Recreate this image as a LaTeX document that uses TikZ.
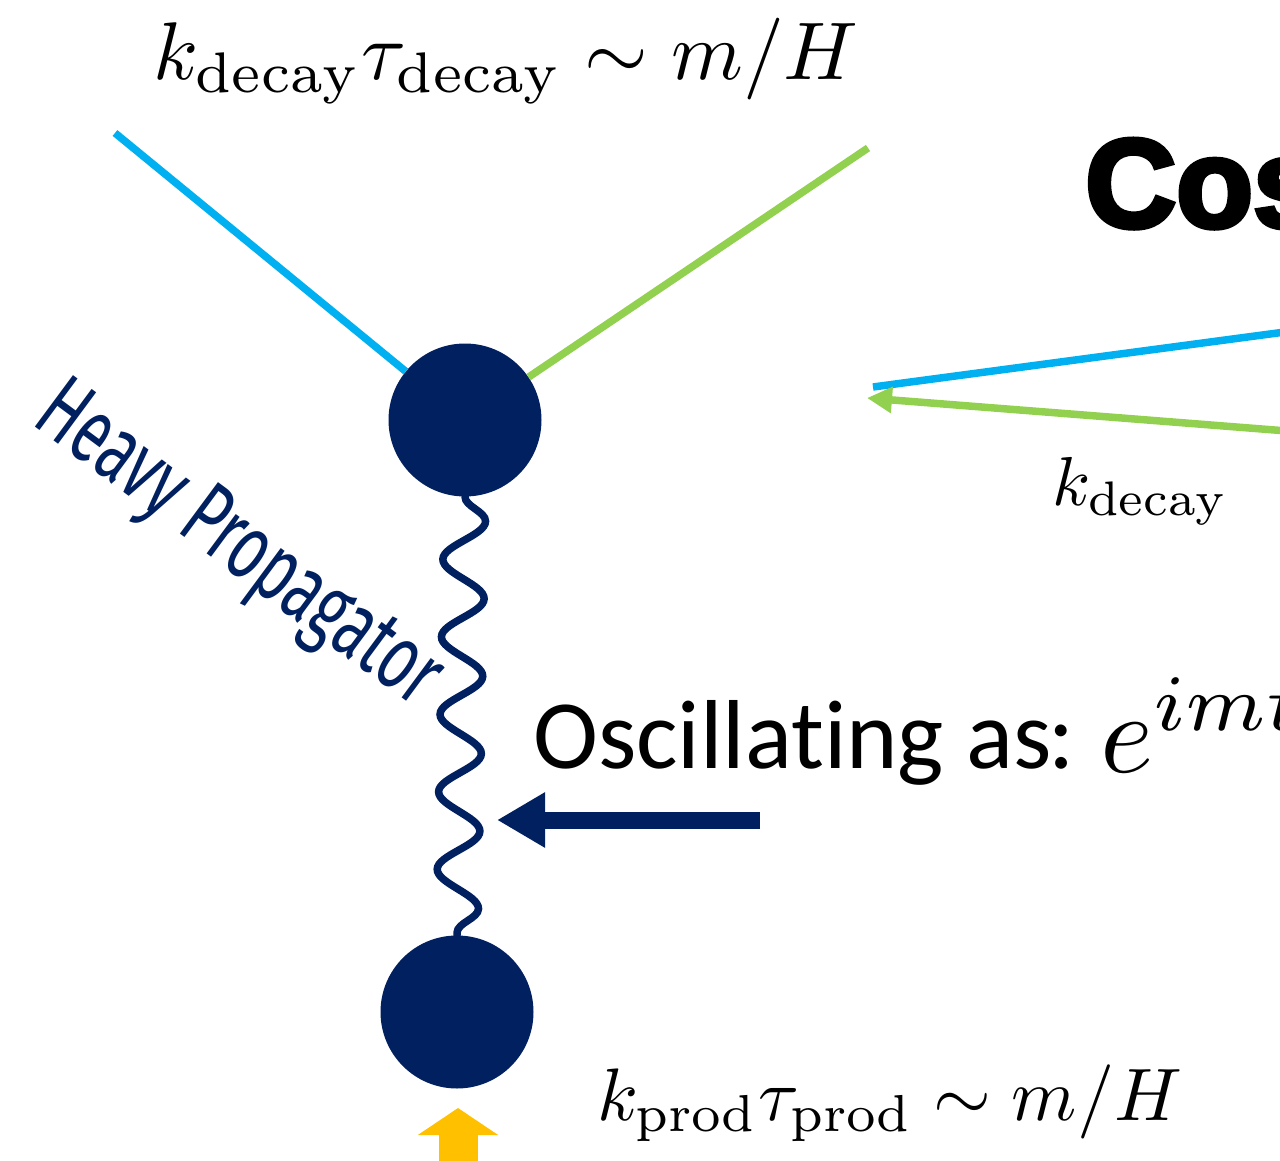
\documentclass[tikz,border=0pt]{standalone}
\usepackage{fontspec}
\usepackage{graphicx}
\usetikzlibrary{arrows.meta,decorations.pathmorphing}
\newfontfamily\calibri{Carlito}[Ligatures=NoCommon]
\newfontfamily\agency{Fira Sans}
\newfontfamily\blackfont{Liberation Sans}[BoldFeatures={FakeBold=4}]
\definecolor{navy}{RGB}{0,32,96}
\definecolor{cyanb}{RGB}{0,176,240}
\definecolor{greenb}{RGB}{146,208,80}
\definecolor{yellowb}{RGB}{255,192,0}
\begin{document}
\begin{tikzpicture}[x=1pt,y=-1pt,
  dot/.style={circle, fill=navy, minimum size=153pt, inner sep=0pt},
  leg/.style={line width=7.5pt},
  wave/.style={navy, line width=7.5pt, line cap=round, decorate,
    decoration={snake, segment length=77.5pt, amplitude=21pt}},
  lbl/.style={anchor=base west, inner sep=0pt}]
\useasboundingbox (0,0) rectangle (1280,1161);
\clip (0,0) rectangle (1280,1161);
% vertices
\node[dot] (c1) at (465,420) {};
\node[dot] (c2) at (457,1012) {};
% legs
\coordinate (bl) at (115,133);
\coordinate (gr) at (868,148);
\draw[leg, cyanb] (bl) -- (c1);
\draw[leg, greenb] (gr) -- (c1);
% propagator
\draw[wave] (c1.south) -- (c2.north);
% right side momenta
\coordinate (rb1) at (873,387);
\coordinate (rb2) at (1300,330);
\coordinate (rg1) at (1300,432);
\coordinate (rg2) at (867,398);
\draw[leg, cyanb] (rb1) -- (rb2);
\draw[leg, greenb, -{Triangle[length=25pt,width=25pt]}] (rg1) -- (rg2);
% navy pointer
\coordinate (ns) at (760,820);
\coordinate (nt) at (497,820);
\draw[navy, line width=17pt, -{Triangle[length=48pt,width=52pt]}] (ns) -- (nt);
% yellow arrow
\coordinate (ys) at (458,1200);
\coordinate (yt) at (458,1108);
\draw[yellowb, line width=39pt, -{Triangle[length=27pt,width=79pt]}] (ys) -- (yt);
% texts
\node[lbl] (topm) at (153,80) {\resizebox{705pt}{!}{$k_{\mathrm{decay}}\tau_{\mathrm{decay}}\sim m/H$}};
\node[lbl] (botm) at (597,1120) {\resizebox{585pt}{!}{$k_{\mathrm{prod}}\tau_{\mathrm{prod}}\sim m/H$}};
\node[lbl] (kd) at (1052,505) {\resizebox{176pt}{!}{$k_{\mathrm{decay}}$}};
\node[lbl] (osc) at (533,768) {\calibri\fontsize{98}{110}\selectfont Oscillating as};
\node[lbl] (colon) at (1048,768) {\calibri\fontsize{98}{110}\selectfont :};
\node[lbl] (emt) at (1100,772) {\scalebox{11.4}{$e^{imt}$}};
\node[lbl] (cos) at (1085,227) {\blackfont\bfseries\fontsize{126}{130}\selectfont Cos};
\node[lbl, rotate=-36.5, text=navy] (hp) at (30,423) {\resizebox{480pt}{64pt}{\agency Heavy Propagator}};
\end{tikzpicture}
\end{document}
